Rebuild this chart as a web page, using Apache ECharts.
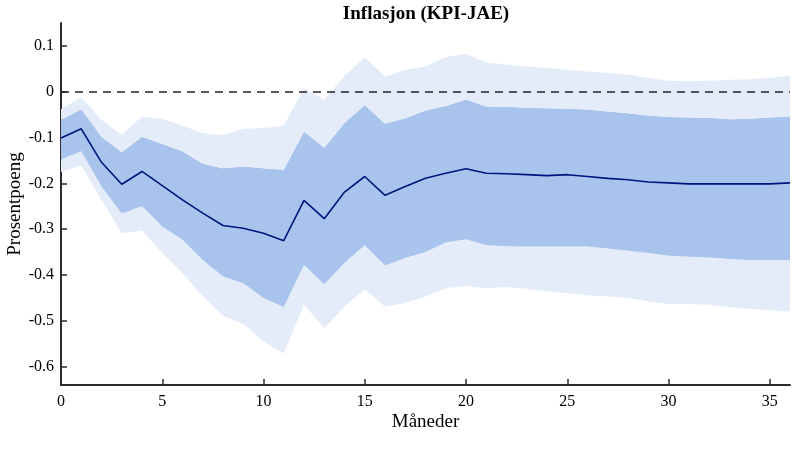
<!DOCTYPE html>
<html>
  <head>
    <meta charset="utf-8" />
    <title>Inflasjon (KPI-JAE)</title>
    <script src="https://cdn.jsdelivr.net/npm/echarts@6/dist/echarts.min.js"></script>
  </head>
  <body style="margin:0;">
    <div id="chart" style="width: 800px; height:450px;"></div>
    <script type="text/javascript">
      // months 0..36
      var months = ['0', '1', '2', '3', '4', '5', '6', '7', '8', '9', '10', '11', '12',
        '13', '14', '15', '16', '17', '18', '19', '20', '21', '22', '23', '24',
        '25', '26', '27', '28', '29', '30', '31', '32', '33', '34', '35', '36'];

      // median response
      var median = [-0.101, -0.081, -0.154, -0.202, -0.174, -0.205, -0.236, -0.265, -0.292, -0.298,
        -0.309, -0.325, -0.237, -0.277, -0.219, -0.185, -0.226, -0.207, -0.189, -0.178,
        -0.168, -0.178, -0.179, -0.181, -0.183, -0.181, -0.185, -0.189, -0.192, -0.197,
        -0.199, -0.201, -0.201, -0.201, -0.201, -0.201, -0.199];
      // inner band (dark)
      var innerLow = [-0.148, -0.130, -0.207, -0.266, -0.250, -0.294, -0.323, -0.367, -0.403, -0.418,
        -0.450, -0.470, -0.378, -0.420, -0.373, -0.335, -0.379, -0.363, -0.350, -0.329,
        -0.322, -0.335, -0.337, -0.338, -0.338, -0.338, -0.338, -0.342, -0.347, -0.352,
        -0.358, -0.360, -0.362, -0.365, -0.367, -0.367, -0.367];
      var innerHigh = [-0.061, -0.038, -0.098, -0.132, -0.098, -0.114, -0.130, -0.157, -0.167, -0.163,
        -0.167, -0.170, -0.087, -0.122, -0.068, -0.029, -0.070, -0.058, -0.041, -0.031,
        -0.017, -0.032, -0.033, -0.035, -0.036, -0.037, -0.039, -0.043, -0.047, -0.052,
        -0.055, -0.056, -0.057, -0.060, -0.059, -0.056, -0.054];
      // outer band (light)
      var outerLow = [-0.175, -0.161, -0.236, -0.309, -0.303, -0.352, -0.396, -0.447, -0.489, -0.507,
        -0.545, -0.571, -0.465, -0.516, -0.469, -0.431, -0.469, -0.461, -0.447, -0.429,
        -0.424, -0.429, -0.426, -0.430, -0.436, -0.440, -0.444, -0.447, -0.450, -0.458,
        -0.463, -0.463, -0.465, -0.470, -0.474, -0.477, -0.480];
      var outerHigh = [-0.038, -0.012, -0.061, -0.094, -0.054, -0.059, -0.074, -0.090, -0.095, -0.081,
        -0.079, -0.074, 0.008, -0.017, 0.035, 0.075, 0.033, 0.048, 0.055, 0.076,
        0.083, 0.064, 0.059, 0.055, 0.052, 0.048, 0.044, 0.041, 0.037, 0.030,
        0.024, 0.023, 0.024, 0.026, 0.027, 0.030, 0.035];

      var yTicks = [-0.6, -0.5, -0.4, -0.3, -0.2, -0.1, 0, 0.1];

      function diff(a, b) {
        return a.map(function (v, i) { return +(v - b[i]).toFixed(4); });
      }

      var lightBand = '#e5ecf9';
      var darkBand = '#a9c4ec';
      var font = 'Liberation Serif';

      var bandBase = { type: 'line', stack: 'band', stackStrategy: 'all', symbol: 'none',
        lineStyle: { width: 0 }, silent: true };

      var option = {
        animation: false,
        title: {
          text: 'Inflasjon (KPI-JAE)', left: 421, top: 0, textAlign: 'center',
          textStyle: { fontFamily: font, fontSize: 19, fontWeight: 'bold', color: '#000' }
        },
        grid: { left: 61, right: 10, top: 23, bottom: 65, outerBoundsMode: 'none', containLabel: false },
        xAxis: {
          type: 'category', data: months, boundaryGap: false,
          name: 'Måneder', nameLocation: 'middle', nameGap: 28, nameMoveOverlap: false,
          nameTextStyle: { fontFamily: font, fontSize: 19, color: '#000' },
          axisLine: { onZero: false, lineStyle: { color: '#2b2b2b', width: 2 } },
          axisTick: { inside: true, length: 6, interval: function (i) { return i % 5 === 0 && i < 36; },
            lineStyle: { color: '#2b2b2b', width: 1.5 } },
          axisLabel: { interval: function (i) { return i % 5 === 0 && i < 36; }, margin: 9,
            fontFamily: font, fontSize: 16, color: '#000' },
          splitLine: { show: false }
        },
        yAxis: {
          type: 'value', min: -0.64, max: 0.15,
          name: 'Prosentpoeng', nameLocation: 'middle', nameGap: 36, nameMoveOverlap: false,
          nameTextStyle: { fontFamily: font, fontSize: 19, color: '#000' },
          axisLine: { show: true, lineStyle: { color: '#2b2b2b', width: 2 } },
          axisTick: { show: true, inside: true, length: 6, customValues: yTicks, lineStyle: { color: '#2b2b2b', width: 1.5 } },
          axisLabel: { customValues: yTicks, margin: 7, fontFamily: font, fontSize: 16, color: '#000',
            formatter: function (v) { return String(+v.toFixed(1)); } },
          splitLine: { show: false }
        },
        series: [
          Object.assign({}, bandBase, { data: outerLow }),
          Object.assign({}, bandBase, { data: diff(innerLow, outerLow), areaStyle: { color: lightBand, opacity: 1 } }),
          Object.assign({}, bandBase, { data: diff(innerHigh, innerLow), areaStyle: { color: darkBand, opacity: 1 } }),
          Object.assign({}, bandBase, { data: diff(outerHigh, innerHigh), areaStyle: { color: lightBand, opacity: 1 } }),
          {
            type: 'line', data: median, symbol: 'none', z: 5,
            lineStyle: { color: '#00137f', width: 1.6 },
            markLine: {
              silent: true, symbol: 'none', label: { show: false },
              lineStyle: { color: '#222', width: 1.5, type: [8, 6] },
              data: [{ yAxis: 0 }]
            }
          }
        ]
      };

      var chart = echarts.init(document.getElementById('chart'));
      chart.setOption(option);
    </script>
  </body>
</html>
